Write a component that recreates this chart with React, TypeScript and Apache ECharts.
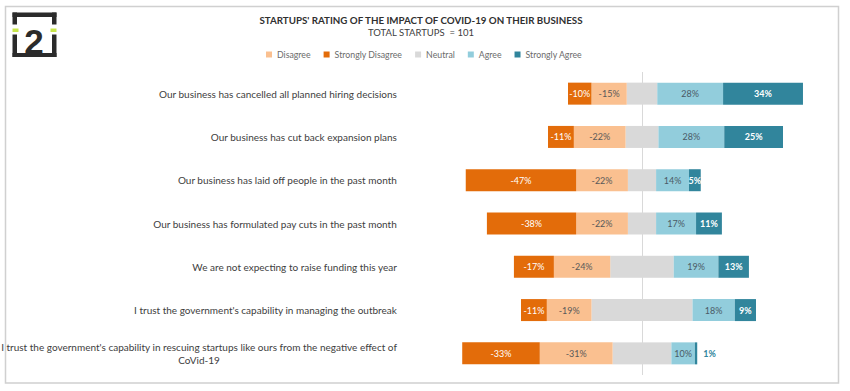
import React, { useEffect, useRef } from "react";
import * as echarts from "echarts";

const categories = [
  "Our business has cancelled all planned hiring decisions",
  "Our business has cut back expansion plans",
  "Our business has laid off people in the past month",
  "Our business has formulated pay cuts in the past month",
  "We are not expecting to raise funding this year",
  "I trust the government's capability in managing the outbreak",
  "I trust the government's capability in rescuing startups like ours from the negative effect of\nCoVid-19",
];
const stronglyDisagree = [10, 11, 47, 38, 17, 11, 33];
const disagree = [15, 22, 22, 22, 24, 19, 31];
const neutral = [13, 14, 12, 12, 27, 43, 25];
const agree = [28, 28, 14, 17, 19, 18, 10];
const stronglyAgree = [34, 25, 5, 11, 13, 9, 1];
const legendNames = ["Disagree", "Strongly Disagree", "Neutral", "Agree", "Strongly Agree"];

const FONT = "Lato";
const C_SD = "#E36C0A";
const C_D = "#FAC090";
const C_N = "#D9D9D9";
const C_A = "#92CDDC";
const C_SA = "#31859C";

export default function App() {
  const ref = useRef<HTMLDivElement>(null);
  useEffect(() => {
    if (!ref.current) return;
    const chart = echarts.init(ref.current, null, { renderer: "svg" });
    const pct = (p: any) => `${p.value}%`;
    const labelBase = { show: true, fontFamily: FONT, fontSize: 9, formatter: pct };
    const option: any = {
      animation: false,
      backgroundColor: "#ffffff",
      textStyle: { fontFamily: FONT },
      legend: {
        data: legendNames,
        top: 45,
        left: 261,
        icon: "rect",
        itemWidth: 6,
        itemHeight: 6,
        itemGap: 13,
        textStyle: { fontFamily: FONT, fontSize: 8.75, color: "#6b6b6b" },
        selectedMode: false,
      },
      grid: { left: 407, right: 20, top: 72, bottom: 16, containLabel: false, outerBoundsMode: "none" },
      xAxis: { type: "value", min: -100, max: 80, show: false },
      yAxis: {
        type: "category",
        inverse: true,
        data: categories,
        axisLine: { show: false },
        axisTick: { show: false },
        axisLabel: {
          margin: 10,
          color: "#404040",
          fontFamily: FONT,
          fontSize: 10,
          lineHeight: 13,
          formatter: (v: string) => v.split("\n").map((l) => `{c|${l}}`).join("\n"),
          rich: { c: { align: "center", fontFamily: FONT, fontSize: 10, color: "#404040", lineHeight: 13 } },
        },
      },
      graphic: [
        { type: "rect", shape: { x: 5.5, y: 6.5, width: 833, height: 376.5 }, style: { fill: "none", stroke: "#d0d0d0", lineWidth: 1.5 }, silent: true },
        { type: "text", x: 421, y: 15, style: { text: "STARTUPS' RATING OF THE IMPACT OF COVID-19 ON THEIR BUSINESS", fontFamily: FONT, fontWeight: "bold", fontSize: 9.75, fill: "#303030", textAlign: "center" } },
        { type: "text", x: 421, y: 27, style: { text: "TOTAL STARTUPS  = 101", fontFamily: FONT, fontSize: 9.5, fill: "#404040", textAlign: "center" } },
        // logo
        { type: "rect", shape: { x: 12.5, y: 12.5, width: 44, height: 4.5 }, style: { fill: "#2b2b2b" } },
        { type: "rect", shape: { x: 12.5, y: 12.5, width: 4.5, height: 12 }, style: { fill: "#2b2b2b" } },
        { type: "rect", shape: { x: 52, y: 12.5, width: 4.5, height: 12 }, style: { fill: "#2b2b2b" } },
        { type: "rect", shape: { x: 12.5, y: 28.5, width: 6, height: 3.5 }, style: { fill: "#c8e64a" } },
        { type: "rect", shape: { x: 50.5, y: 28.5, width: 6, height: 3.5 }, style: { fill: "#c8e64a" } },
        { type: "rect", shape: { x: 12.5, y: 34.5, width: 4.5, height: 22.5 }, style: { fill: "#2b2b2b" } },
        { type: "rect", shape: { x: 52, y: 34.5, width: 4.5, height: 22.5 }, style: { fill: "#2b2b2b" } },
        { type: "rect", shape: { x: 12.5, y: 53, width: 44, height: 4 }, style: { fill: "#2b2b2b" } },
        { type: "text", x: 34, y: 24, style: { text: "2", fontFamily: "Liberation Sans", fontWeight: "bold", fontSize: 35, fill: "#2b2b2b", textAlign: "center" } },
      ],
      series: [
        {
          name: "Neutral", type: "bar", stack: "t", barWidth: 22, itemStyle: { color: C_N },
          data: neutral.map((v) => -v / 2), label: { show: false }, silent: true,
        },
        {
          name: "Disagree", type: "bar", stack: "t", barWidth: 22, itemStyle: { color: C_D },
          data: disagree.map((v) => -v), label: { ...labelBase, color: "#595959" },
        },
        {
          name: "Strongly Disagree", type: "bar", stack: "t", barWidth: 22, itemStyle: { color: C_SD },
          data: stronglyDisagree.map((v) => -v), label: { ...labelBase, color: "#ffffff" },
        },
        {
          name: "Neutral", type: "bar", stack: "t", barWidth: 22, itemStyle: { color: C_N },
          data: neutral.map((v) => v / 2), label: { show: false }, silent: true,
          markLine: {
            silent: true, symbol: "none", label: { show: false },
            lineStyle: { color: "#d9d9d9", width: 1, type: "solid" },
            data: [{ xAxis: 0 }],
          },
        },
        {
          name: "Agree", type: "bar", stack: "t", barWidth: 22, itemStyle: { color: C_A },
          data: agree, label: { ...labelBase, color: "#4a5a66" },
        },
        {
          name: "Strongly Agree", type: "bar", stack: "t", barWidth: 22, itemStyle: { color: C_SA },
          data: stronglyAgree.map((v) =>
            v <= 2
              ? { value: v, label: { position: "right", color: C_SA, fontWeight: "bold", distance: 6 } }
              : v
          ),
          label: { ...labelBase, color: "#ffffff", fontWeight: "bold" },
        },
      ],
    };
    chart.setOption(option);
    return () => chart.dispose();
  }, []);
  return <div ref={ref} style={{ position: "absolute", left: 0, top: 0, width: 850, height: 391 }} />;
}
